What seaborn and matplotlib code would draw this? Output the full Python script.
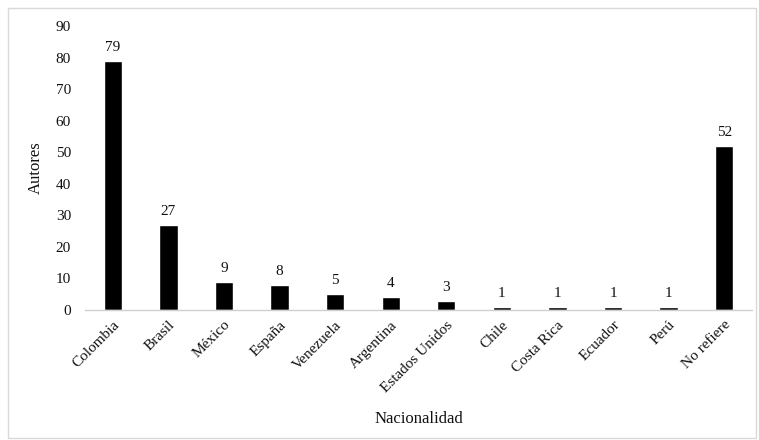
import matplotlib
matplotlib.use("Agg")
import matplotlib.pyplot as plt
import seaborn as sns
import pandas as pd
from matplotlib.patches import Rectangle

paises = ["Colombia", "Brasil", "México", "España", "Venezuela", "Argentina",
          "Estados Unidos", "Chile", "Costa Rica", "Ecuador", "Perú", "No refiere"]
autores = [79, 27, 9, 8, 5, 4, 3, 1, 1, 1, 1, 52]
yticks = [0, 10, 20, 30, 40, 50, 60, 70, 80, 90]

sns.set_theme(style="white")
plt.rcParams['font.family'] = ['Liberation Serif', 'DejaVu Serif']

df = pd.DataFrame({"Nacionalidad": paises, "Autores": autores})

fig = plt.figure(figsize=(7.59, 4.40), dpi=100)
ax = fig.add_axes([85 / 759, 130 / 440, 667 / 759, 284 / 440])

sns.barplot(data=df, x="Nacionalidad", y="Autores", color="black",
            width=0.33, ax=ax, saturation=1)

# value labels
for i, v in enumerate(autores):
    ax.text(i, v + 2.2, str(v), ha="center", va="bottom", fontsize=11, color="#111111")

ax.set_ylim(0, 90)
ax.set_yticks(yticks)
ax.set_xlim(-0.5, len(paises) - 0.5)
ax.tick_params(axis="both", length=0, labelsize=11, colors="#111111")
ax.tick_params(axis="y", pad=10)
ax.tick_params(axis="x", pad=6)
for lab in ax.get_xticklabels():
    lab.set_rotation(45)
    lab.set_ha("right")
    lab.set_rotation_mode("anchor")

sns.despine(ax=ax, left=True)
ax.spines["bottom"].set_color("#d0d0d0")
ax.spines["bottom"].set_linewidth(1.0)

ax.set_ylabel("Autores", fontsize=12, color="#111111")
ax.set_xlabel("Nacionalidad", fontsize=12, color="#111111")
ax.xaxis.set_label_coords(0.5, -0.355)
ax.yaxis.set_label_coords(-0.062, 0.5)

# outer chart border
fig.patches.append(Rectangle((8 / 759, 2 / 440), 748 / 759, 430 / 440,
                             transform=fig.transFigure, fill=False,
                             edgecolor="#d9d9d9", linewidth=1.0))

fig.savefig("out.png", dpi=100)
